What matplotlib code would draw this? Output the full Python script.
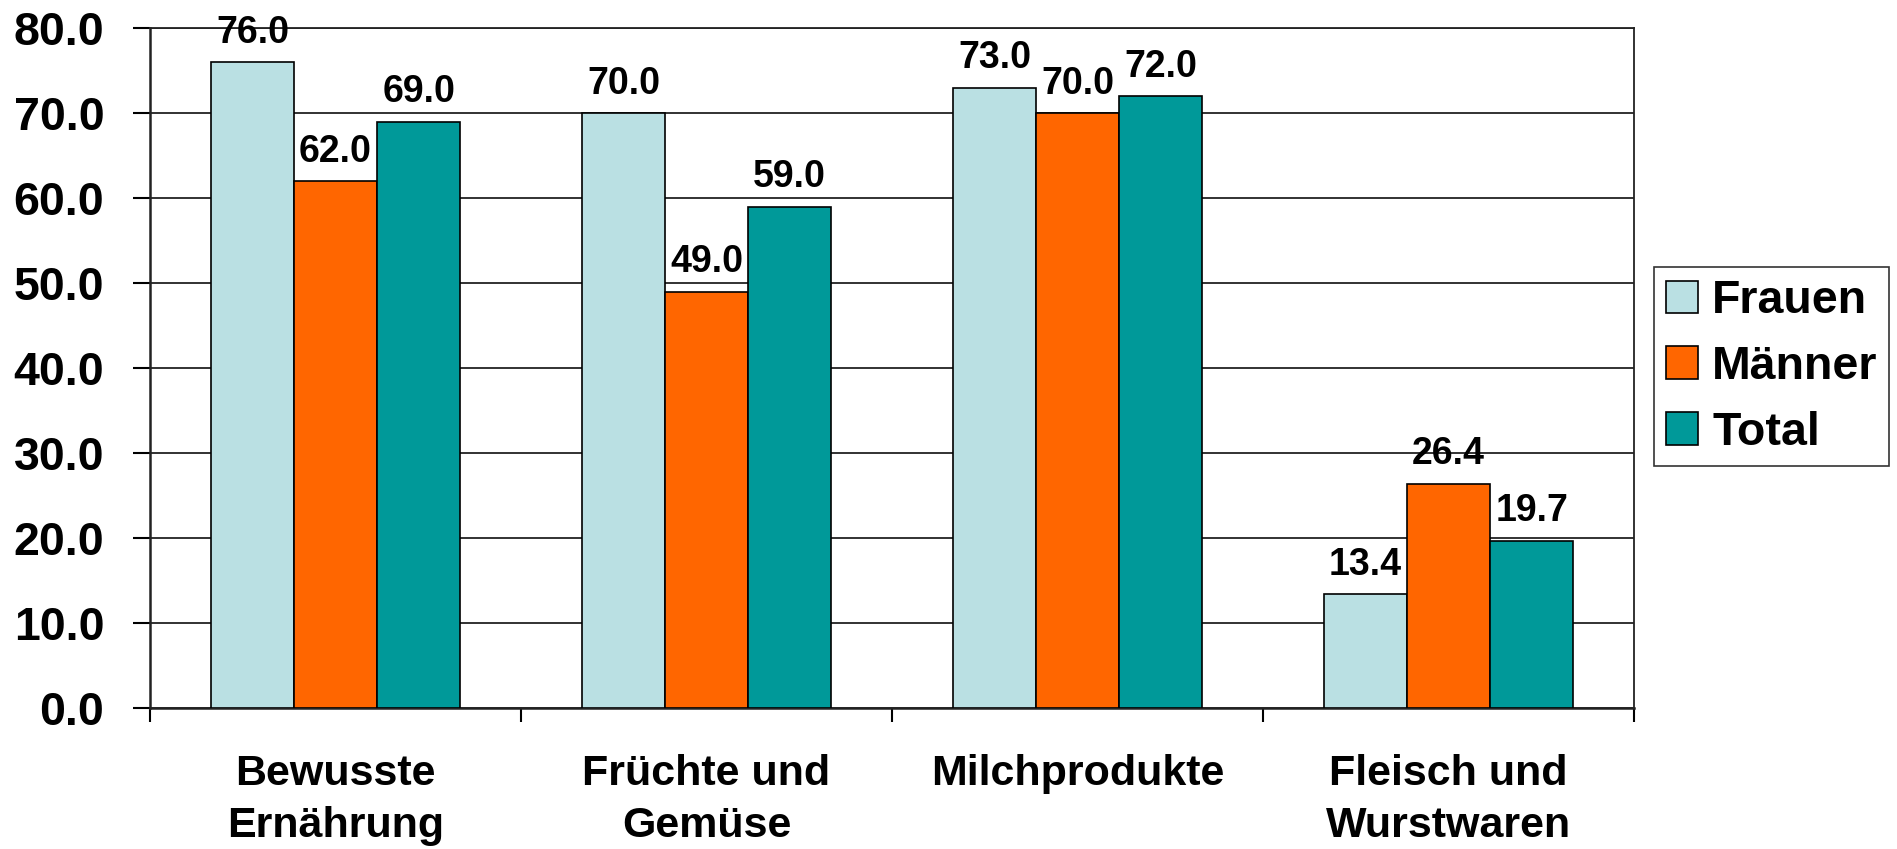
import numpy as np
import matplotlib.pyplot as plt

# Data
categories = ["Bewusste\nErnährung", "Früchte und\nGemüse", "Milchprodukte", "Fleisch und\nWurstwaren"]
series_names = ["Frauen", "Männer", "Total"]
frauen = [76.0, 70.0, 73.0, 13.4]
maenner = [62.0, 49.0, 70.0, 26.4]
total = [69.0, 59.0, 72.0, 19.7]
yticks = [0, 10, 20, 30, 40, 50, 60, 70, 80]

colors = ["#BAE0E3", "#FF6600", "#009999"]

plt.rcParams['font.family'] = ['Liberation Sans', 'DejaVu Sans']
plt.rcParams['font.weight'] = 'bold'

fig = plt.figure(figsize=(18.97, 8.49), dpi=100)
ax = fig.add_axes([150/1897, 1 - 708/849, (1634-150)/1897, (708-28)/849])

x = np.arange(len(categories))
w = 0.224
for i, (vals, name) in enumerate(zip([frauen, maenner, total], series_names)):
    ax.bar(x + (i - 1) * w, vals, w, color=colors[i], edgecolor='black',
           linewidth=1.2, label=name, zorder=3)
    for xi, v in zip(x + (i - 1) * w, vals):
        ax.annotate(f"{v:.1f}", (xi, v), xytext=(0, 14), textcoords='offset points',
                    ha='center', va='baseline', fontsize=27, fontweight='bold', zorder=4)

ax.set_xlim(-0.5, len(categories) - 0.5)
ax.set_ylim(0, 80)
ax.set_yticks(yticks)
ax.set_yticklabels([f"{v:.1f}" for v in yticks])
ax.yaxis.grid(True, color='#222222', linewidth=1.3, zorder=0)

# boundaries ticks (major) and category labels (minor)
ax.set_xticks(np.arange(len(categories) + 1) - 0.5)
ax.set_xticklabels([])
ax.set_xticks(x, minor=True)
ax.set_xticklabels(categories, minor=True, fontsize=31, fontweight='bold', linespacing=1.38)
ax.tick_params(axis='x', which='major', length=10, width=1.5, direction='out')
ax.tick_params(axis='x', which='minor', length=0, pad=33)
ax.tick_params(axis='y', length=12, width=1.5, pad=21, labelsize=33.5)
for lbl in ax.get_yticklabels():
    lbl.set_fontweight('bold')

for s in ax.spines.values():
    s.set_color('#222222')
    s.set_linewidth(1.3)
ax.spines['left'].set_linewidth(1.8)
ax.spines['bottom'].set_linewidth(1.8)

leg = fig.legend(loc='center left', bbox_to_anchor=(1654/1897, 1 - 367/849),
                 prop={'weight': 'bold', 'size': 33.5},
                 frameon=True, fancybox=False, edgecolor='black',
                 handlelength=0.7, handleheight=0.7, handletextpad=0.3,
                 labelspacing=0.47, borderpad=0.25, borderaxespad=0)
leg.get_frame().set_linewidth(1.2)

fig.savefig("out.png", dpi=100)
